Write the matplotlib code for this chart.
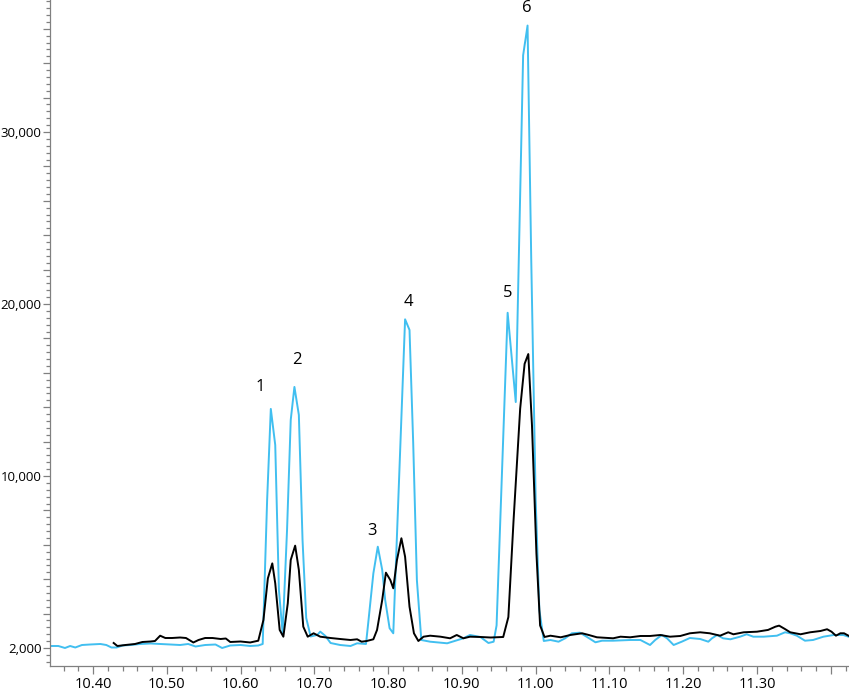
import matplotlib.pyplot as plt
from matplotlib.ticker import MultipleLocator, FuncFormatter

# Retention time (min) and signal for the two traces
blue_t = [10.342, 10.353, 10.362, 10.369, 10.376, 10.385, 10.396, 10.410, 10.418, 10.425,
          10.432, 10.440, 10.451, 10.464, 10.478, 10.491, 10.505, 10.518, 10.529, 10.539,
          10.552, 10.566, 10.575, 10.586, 10.600, 10.613, 10.624, 10.630, 10.636, 10.641,
          10.647, 10.652, 10.657, 10.663, 10.668, 10.673, 10.679, 10.684, 10.689, 10.695,
          10.704, 10.708, 10.715, 10.722, 10.735, 10.749, 10.758, 10.770, 10.773, 10.780,
          10.786, 10.792, 10.796, 10.802, 10.807, 10.823, 10.829, 10.834, 10.839, 10.845,
          10.857, 10.880, 10.902, 10.911, 10.925, 10.936, 10.943, 10.947, 10.962, 10.973,
          10.983, 10.989, 10.994, 11.000, 11.005, 11.011, 11.020, 11.031, 11.040, 11.049,
          11.060, 11.069, 11.081, 11.090, 11.105, 11.128, 11.142, 11.155, 11.162, 11.171,
          11.178, 11.187, 11.198, 11.209, 11.223, 11.234, 11.239, 11.246, 11.254, 11.264,
          11.277, 11.286, 11.295, 11.309, 11.327, 11.338, 11.345, 11.354, 11.365, 11.376,
          11.390, 11.404, 11.417, 11.424]
blue_y = [116, 116, 0, 116, 29, 174, 203, 233, 174, 29,
          29, 145, 174, 233, 262, 233, 203, 174, 233, 87,
          174, 203, 0, 145, 174, 116, 145, 233, 8600, 13900,
          11800, 3370, 870, 6860, 13260, 15180, 13550, 6280, 1740, 670,
          760, 950, 700, 290, 174, 116, 273, 233, 1440, 4340,
          5890, 4540, 2790, 1150, 855, 19110, 18490, 11920, 3950, 465,
          366, 273, 564, 756, 640, 291, 366, 1310, 19490, 14300,
          34460, 36190, 22560, 8600, 2210, 407, 465, 366, 564, 855,
          890, 657, 331, 424, 424, 465, 465, 174, 465, 756,
          564, 174, 366, 581, 523, 366, 564, 756, 564, 506,
          657, 797, 657, 657, 715, 913, 855, 715, 424, 465,
          657, 756, 756, 657]

black_t = [10.428, 10.433, 10.444, 10.457, 10.467, 10.478, 10.484, 10.491, 10.498, 10.507,
           10.518, 10.526, 10.536, 10.543, 10.552, 10.562, 10.573, 10.580, 10.586, 10.600,
           10.613, 10.624, 10.631, 10.637, 10.643, 10.647, 10.653, 10.658, 10.664, 10.668,
           10.674, 10.679, 10.685, 10.691, 10.699, 10.708, 10.722, 10.735, 10.749, 10.758,
           10.764, 10.771, 10.780, 10.785, 10.792, 10.797, 10.803, 10.807, 10.812, 10.818,
           10.823, 10.829, 10.835, 10.841, 10.848, 10.857, 10.871, 10.884, 10.893, 10.902,
           10.911, 10.925, 10.939, 10.956, 10.963, 10.970, 10.979, 10.985, 10.990, 10.995,
           11.001, 11.006, 11.012, 11.020, 11.034, 11.047, 11.063, 11.072, 11.083, 11.105,
           11.115, 11.128, 11.142, 11.155, 11.169, 11.182, 11.196, 11.209, 11.223, 11.236,
           11.250, 11.261, 11.268, 11.282, 11.300, 11.315, 11.325, 11.330, 11.338, 11.345,
           11.359, 11.372, 11.386, 11.395, 11.401, 11.407, 11.413, 11.418, 11.424]
black_y = [291, 116, 174, 233, 349, 378, 407, 715, 581, 581,
           610, 581, 320, 465, 581, 581, 523, 552, 349, 378,
           320, 424, 1630, 4050, 4920, 3760, 1050, 657, 2600, 5120,
           5950, 4540, 1240, 657, 855, 657, 581, 523, 465, 506,
           366, 407, 506, 1050, 2790, 4380, 3950, 3470, 5120, 6380,
           5310, 2400, 855, 407, 657, 715, 657, 564, 756, 564,
           657, 640, 610, 640, 1800, 7400, 13920, 16520, 17090, 12940,
           5520, 1310, 640, 715, 622, 756, 855, 756, 622, 564,
           657, 622, 698, 698, 756, 657, 698, 855, 913, 855,
           715, 913, 797, 913, 948, 1050, 1240, 1300, 1100, 913,
           797, 913, 988, 1090, 948, 715, 855, 855, 715]

# Peak numbers and where they sit
peak_names = ['1', '2', '3', '4', '5', '6']
peak_t = [10.627, 10.677, 10.7785, 10.827, 10.9614, 10.9885]
peak_y = [15180, 16740, 6800, 20120, 20640, 37210]

# y tick labels as printed on the original axis
ytick_text = {0: '2,000', 10000: '10,000', 20000: '20,000', 30000: '30,000'}

plt.rcParams['font.family'] = ['Open Sans', 'DejaVu Sans']

fig = plt.figure(figsize=(8.49, 6.92), dpi=100)
ax = fig.add_axes([50 / 849, 26 / 692, 799 / 849, 666 / 692])

ax.plot(blue_t, blue_y, color='#41BFF0', lw=1.4, zorder=2)
ax.plot(black_t, black_y, color='black', lw=1.4, zorder=3)

for name, t, y in zip(peak_names, peak_t, peak_y):
    ax.text(t, y, name, ha='center', va='center', fontsize=12, clip_on=False)

ax.set_xlim(10.3417, 11.4247)
ax.set_ylim(-1047, 37675)

for side in ['top', 'right']:
    ax.spines[side].set_visible(False)
for side in ['left', 'bottom']:
    ax.spines[side].set_color('#808080')
    ax.spines[side].set_linewidth(0.9)

ax.xaxis.set_major_locator(MultipleLocator(0.1))
ax.xaxis.set_minor_locator(MultipleLocator(0.02))
ax.xaxis.set_major_formatter(FuncFormatter(lambda v, p: '' if v > 11.35 else f'{v:.2f}'))

ax.yaxis.set_major_locator(MultipleLocator(2000))
ax.yaxis.set_minor_locator(MultipleLocator(400))
ax.yaxis.set_major_formatter(FuncFormatter(lambda v, p: ytick_text.get(int(round(v)), '')))

ax.tick_params(axis='x', which='major', length=6, width=0.9, color='#808080',
               labelsize=10.5, pad=2)
ax.tick_params(axis='x', which='minor', length=3.5, width=0.9, color='#808080')
ax.tick_params(axis='y', which='major', length=5, width=0.9, color='#808080',
               labelsize=9.5, pad=1)
ax.tick_params(axis='y', which='minor', length=3, width=0.9, color='#808080')

fig.savefig('out.png', dpi=100)
